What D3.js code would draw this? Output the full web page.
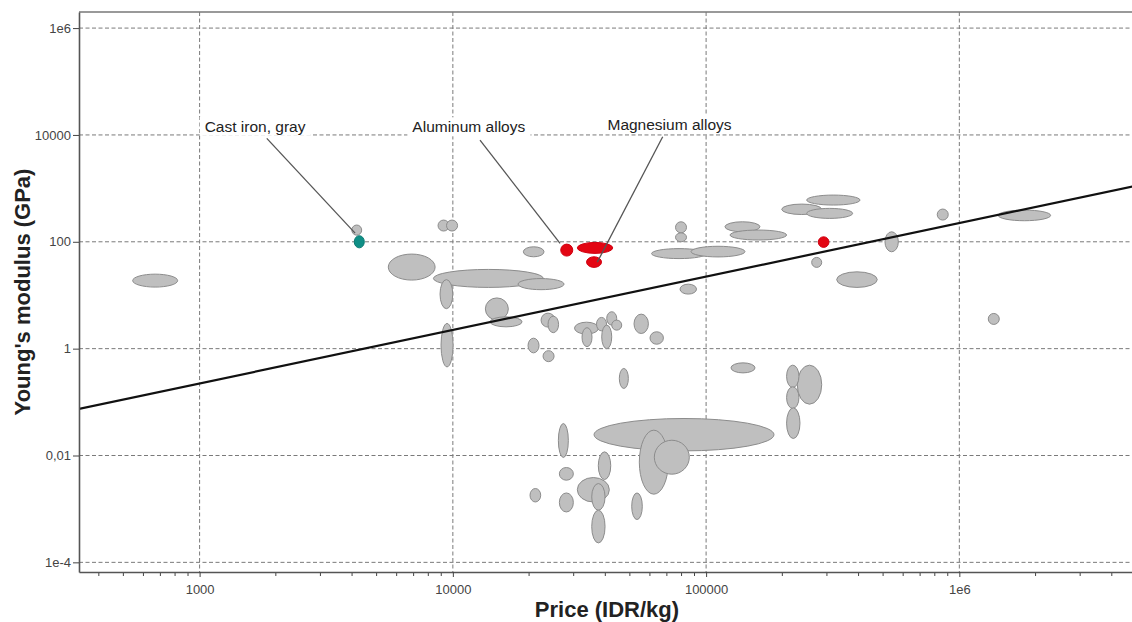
<!DOCTYPE html>
<html>
<head>
<meta charset="utf-8">
<script src="https://cdn.jsdelivr.net/npm/d3@7"></script>
<style>
  html, body { margin: 0; padding: 0; background: #fff; }
  svg { display: block; }
</style>
</head>
<body>
<svg id="chart" width="1132" height="622"></svg>
<script>
// ---------- DATA ----------
const xDomain = [334, 4850000];          // Price (IDR/kg)
const yDomain = [6.6e-5, 2e6];           // Young's modulus (GPa)
const xTickValues = [1000, 10000, 100000, 1000000];
const xTickLabels = ["1000", "10000", "100000", "1e6"];
const yTickValues = [1e-4, 1e-2, 1, 100, 10000, 1e6];
const yTickLabels = ["1e-4", "0,01", "1", "100", "10000", "1e6"];

// each bubble: [price low, price high, modulus low, modulus high]
const grayBubbles = [
  [544, 819, 14.2, 24.8],
  [3990, 4365, 133, 206],
  [8740, 9670, 159, 255],
  [9440, 10440, 159, 255],
  [5560, 8510, 19.2, 58.9],
  [8380, 22770, 14.0, 30.4],
  [18090, 27480, 12.7, 20.5],
  [8900, 9990, 5.6, 19.6],
  [18980, 22910, 52.4, 80.6],
  [13440, 16560, 3.45, 8.9],
  [14030, 18760, 2.56, 3.94],
  [8980, 10020, 0.456, 2.96],
  [22300, 25320, 2.53, 4.62],
  [23760, 26150, 1.99, 4.06],
  [19810, 21890, 0.834, 1.57],
  [22710, 25100, 0.571, 0.917],
  [75730, 83680, 147, 237],
  [75730, 83680, 100, 147],
  [60890, 100400, 48.5, 74.6],
  [87190, 142400, 52.1, 82.4],
  [78890, 91650, 10.5, 16.1],
  [30230, 37600, 1.87, 3.13],
  [32360, 35440, 1.09, 2.47],
  [36920, 40440, 2.15, 3.84],
  [38710, 42400, 1.0, 2.76],
  [40510, 44370, 2.76, 4.91],
  [42400, 46430, 2.22, 3.42],
  [51930, 59180, 1.92, 4.43],
  [60050, 67830, 1.21, 2.07],
  [45430, 49320, 0.18, 0.426],
  [125400, 156000, 0.352, 0.542],
  [36100, 185400, 0.0122, 0.0493],
  [26100, 28580, 0.00918, 0.0397],
  [54490, 70940, 0.00189, 0.0298],
  [62450, 85850, 0.00447, 0.0193],
  [37530, 42020, 0.00355, 0.0117],
  [26340, 29910, 0.00345, 0.00596],
  [31010, 41490, 0.00135, 0.00387],
  [35350, 39900, 0.000946, 0.00299],
  [35350, 39900, 0.000231, 0.000946],
  [20170, 22230, 0.00135, 0.00241],
  [26340, 29910, 0.000878, 0.00199],
  [50850, 55990, 0.000633, 0.00199],
  [249600, 405200, 487, 749],
  [198900, 286100, 324, 508],
  [249600, 379000, 274, 422],
  [118700, 163200, 154, 237],
  [124300, 207900, 108, 166],
  [261200, 286100, 33.2, 51],
  [327800, 474100, 14.0, 27.4],
  [508500, 574300, 65, 154],
  [818000, 904000, 255, 410],
  [1424000, 2293000, 248, 392],
  [1301000, 1438000, 2.84, 4.56],
  [229100, 286100, 0.0913, 0.491],
  [207900, 232600, 0.187, 0.491],
  [207900, 232600, 0.0759, 0.193],
  [207900, 234800, 0.0208, 0.0779]
];
const redBubbles = [
  [26670, 29750, 54, 90.5],
  [31010, 42790, 60.7, 97.4],
  [33720, 38640, 33.2, 52.4],
  [277300, 305600, 78.6, 124]
];
const tealBubbles = [
  [4080, 4470, 77, 130]
];

// guide line (two end points: price, modulus)
const guidePrice = [334, 4850000];
const guideModulus = [0.0745, 1085];

// annotations
const labelNames = ["Cast iron, gray", "Aluminum alloys", "Magnesium alloys"];
const labelPrice = [1656, 11560, 71700];
const labelModulus = [11480, 11190, 12350];
const leaderFrom = [[1842, 8636], [12800, 8026], [67400, 9254]];
const leaderTo = [[4111, 145.5], [26500, 93.3], [37190, 41.7]];

// ---------- CHART ----------
const svg = d3.select("#chart");
const W = 1132, H = 622;
const m = { left: 79, top: 12, right: -1, bottom: 50 };
const plotR = W - m.right, plotB = H - m.bottom;

const x = d3.scaleLog().domain(xDomain).range([m.left, plotR]);
const y = d3.scaleLog().domain(yDomain).range([plotB, m.top]);

svg.append("rect").attr("width", W).attr("height", H).attr("fill", "#fff");

const clip = svg.append("defs").append("clipPath").attr("id", "clip")
  .append("rect").attr("x", m.left).attr("y", m.top)
  .attr("width", plotR - m.left).attr("height", plotB - m.top);

// grid
const grid = svg.append("g");
grid.selectAll("line.gx").data(xTickValues).join("line")
  .attr("x1", d => x(d)).attr("x2", d => x(d))
  .attr("y1", m.top).attr("y2", plotB)
  .attr("stroke", "#7a7a7a").attr("stroke-width", 1).attr("stroke-dasharray", "4,2.5");
grid.selectAll("line.gy").data(yTickValues).join("line")
  .attr("y1", d => y(d)).attr("y2", d => y(d))
  .attr("x1", m.left).attr("x2", plotR)
  .attr("stroke", "#7a7a7a").attr("stroke-width", 1).attr("stroke-dasharray", "4,2.5");

const plot = svg.append("g").attr("clip-path", "url(#clip)");

function drawBubbles(data, fill, stroke) {
  plot.append("g").selectAll("ellipse").data(data).join("ellipse")
    .attr("cx", d => (x(d[0]) + x(d[1])) / 2)
    .attr("cy", d => (y(d[2]) + y(d[3])) / 2)
    .attr("rx", d => Math.abs(x(d[1]) - x(d[0])) / 2)
    .attr("ry", d => Math.abs(y(d[2]) - y(d[3])) / 2)
    .attr("fill", fill).attr("stroke", stroke).attr("stroke-width", 1);
}
drawBubbles(grayBubbles, "#bfbfbf", "#8c8c8c");
drawBubbles(redBubbles, "#e30613", "#d00010");
drawBubbles(tealBubbles, "#0f8f86", "#0a7a72");

// guide line
plot.append("line")
  .attr("x1", x(guidePrice[0])).attr("y1", y(guideModulus[0]))
  .attr("x2", x(guidePrice[1])).attr("y2", y(guideModulus[1]))
  .attr("stroke", "#111").attr("stroke-width", 2.2);

// annotations
const ann = svg.append("g");
labelNames.forEach((name, i) => {
  ann.append("line")
    .attr("x1", x(leaderFrom[i][0])).attr("y1", y(leaderFrom[i][1]))
    .attr("x2", x(leaderTo[i][0])).attr("y2", y(leaderTo[i][1]))
    .attr("stroke", "#555").attr("stroke-width", 1.3);
  const t = ann.append("text")
    .attr("x", x(labelPrice[i])).attr("y", y(labelModulus[i]))
    .attr("text-anchor", "middle")
    .attr("font-family", "Liberation Sans, Arial, sans-serif")
    .attr("font-size", 15.5).attr("fill", "#222")
    .text(name);
  const bb = t.node().getBBox();
  ann.insert("rect", () => t.node())
    .attr("x", bb.x - 5).attr("y", bb.y - 1)
    .attr("width", bb.width + 10).attr("height", bb.height + 2)
    .attr("fill", "#fff");
});

// frame
svg.append("line").attr("x1", m.left).attr("x2", plotR).attr("y1", m.top).attr("y2", m.top)
  .attr("stroke", "#777").attr("stroke-width", 1.5);

// axes
const xAxisG = svg.append("g").attr("transform", `translate(0,${plotB})`);
const minorX = [];
[100, 1000, 10000, 100000, 1000000].forEach(dec => {
  for (let k = 2; k <= 9; k++) {
    const v = dec * k;
    if (v > xDomain[0] && v < xDomain[1]) minorX.push(v);
  }
});
xAxisG.selectAll("line.minor").data(minorX).join("line")
  .attr("x1", d => x(d)).attr("x2", d => x(d)).attr("y1", 0).attr("y2", 4)
  .attr("stroke", "#444").attr("stroke-width", 1);
xAxisG.call(d3.axisBottom(x).tickValues(xTickValues)
  .tickFormat((d, i) => xTickLabels[i]).tickSize(5).tickSizeOuter(0));
xAxisG.select(".domain").attr("stroke", "#555").attr("stroke-width", 1.6);
xAxisG.selectAll(".tick line").attr("stroke", "#444");
xAxisG.selectAll(".tick text").attr("font-family", "Liberation Sans, Arial, sans-serif")
  .attr("font-size", 13).attr("fill", "#444").attr("dy", "1.05em");

const yAxisG = svg.append("g").attr("transform", `translate(${m.left},0)`);
yAxisG.call(d3.axisLeft(y).tickValues(yTickValues)
  .tickFormat((d, i) => yTickLabels[i]).tickSize(6).tickSizeOuter(0));
yAxisG.select(".domain").attr("stroke", "#555").attr("stroke-width", 1.6);
yAxisG.selectAll(".tick line").attr("stroke", "#444");
yAxisG.selectAll(".tick text").attr("font-family", "Liberation Sans, Arial, sans-serif")
  .attr("font-size", 13).attr("fill", "#444").attr("x", -8);

// axis titles
svg.append("text")
  .attr("x", (m.left + 1133) / 2 + 1).attr("y", 617)
  .attr("text-anchor", "middle")
  .attr("font-family", "Liberation Sans, Arial, sans-serif")
  .attr("font-weight", "bold").attr("font-size", 22).attr("fill", "#222")
  .text("Price (IDR/kg)");
svg.append("text")
  .attr("transform", "translate(30,292) rotate(-90)")
  .attr("text-anchor", "middle")
  .attr("font-family", "Liberation Sans, Arial, sans-serif")
  .attr("font-weight", "bold").attr("font-size", 22).attr("fill", "#222")
  .text("Young's modulus (GPa)");
</script>
</body>
</html>
